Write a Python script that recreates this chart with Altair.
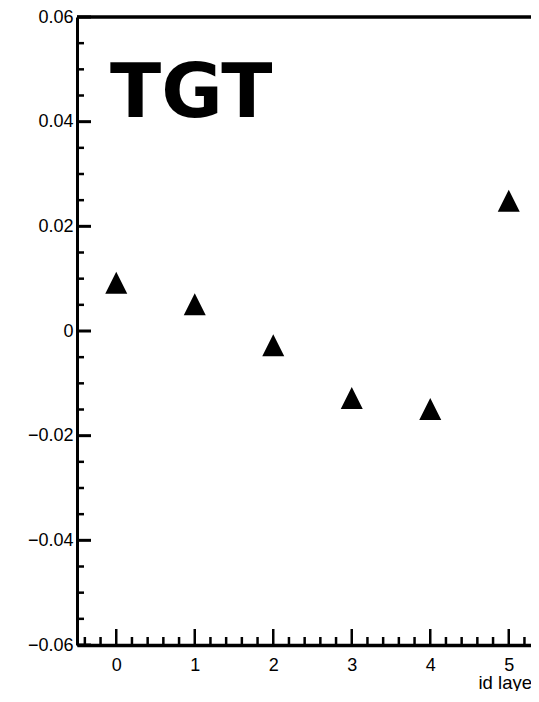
import altair as alt
import pandas as pd

# ---- data ----
layer_id = [0, 1, 2, 3, 4, 5]
offset_val = [0.0092, 0.0051, -0.0027, -0.0128, -0.0149, 0.0249]

x_major = [0, 1, 2, 3, 4, 5]
x_minor = [round(i * 0.2, 1) for i in range(-2, 27) if i % 5 != 0]
y_major = [-0.06, -0.04, -0.02, 0, 0.02, 0.04, 0.06]
y_minor = [round(i * 0.005, 3) for i in range(-11, 12) if i % 4 != 0]

label_text = "TGT"
x_title = "id layer"

# ---- layout ----
W = 454
H = 628
PX_PER_UNIT = 78.5
FONT = "Liberation Sans"

xscale = alt.Scale(domain=[-0.5, -0.5 + W / PX_PER_UNIT], nice=False, zero=False)
yscale = alt.Scale(domain=[-0.06, 0.06], nice=False, zero=False)

xaxis = alt.Axis(
    values=x_major, format="d", ticks=False, tickSize=0, grid=False,
    domainWidth=3.5, domainColor="black",
    labelFont=FONT, labelFontSize=18, labelColor="black", labelPadding=11,
    labelFlush=False, labelOverlap=False,
    title=x_title, titleFont=FONT, titleFontSize=18.5, titleFontWeight="normal",
    titleColor="black", titleX=401, titleY=43, titleAlign="left",
    titleBaseline="alphabetic",
)
yaxis = alt.Axis(
    values=y_major, ticks=False, tickSize=0, grid=False,
    domainWidth=3, domainColor="black",
    labelFont=FONT, labelFontSize=18, labelColor="black", labelPadding=4,
    labelFlush=False, labelOverlap=False,
    labelExpr="datum.value == 0 ? '0' : format(datum.value, '.2f')",
    title="",
)


def xenc(field):
    return alt.X(field, type="quantitative", scale=xscale, axis=xaxis)


def yenc(field):
    return alt.Y(field, type="quantitative", scale=yscale, axis=yaxis)


pts_df = pd.DataFrame({"id": layer_id, "v": offset_val})

points = alt.Chart(pts_df).mark_point(
    shape="M0,-1L-1,1L1,1Z", filled=True, size=484, color="black",
    opacity=1, strokeWidth=0,
).encode(x=xenc("id"), y=yenc("v"))

ymaj = alt.Chart(pd.DataFrame({"v": y_major})).mark_rule(
    color="black", strokeWidth=3
).encode(y=yenc("v"), x=alt.value(0), x2=alt.value(14))

ymin = alt.Chart(pd.DataFrame({"v": y_minor})).mark_rule(
    color="black", strokeWidth=2.5
).encode(y=yenc("v"), x=alt.value(0), x2=alt.value(7))

xmaj = alt.Chart(pd.DataFrame({"id": x_major})).mark_rule(
    color="black", strokeWidth=2.5
).encode(x=xenc("id"), y=alt.value(H), y2=alt.value(H - 16))

xmin = alt.Chart(pd.DataFrame({"id": x_minor})).mark_rule(
    color="black", strokeWidth=2.5
).encode(x=xenc("id"), y=alt.value(H), y2=alt.value(H - 8))

top_line = alt.Chart(pd.DataFrame({"v": [0.06]})).mark_rule(
    color="black", strokeWidth=3.5
).encode(y=yenc("v"))

label = alt.Chart(pd.DataFrame({"t": [label_text], "id": [-0.08], "v": [0.0408]})).mark_text(
    font="DejaVu Sans", fontWeight="bold", fontSize=75, color="black",
    align="left", baseline="alphabetic",
).encode(x=xenc("id"), y=yenc("v"), text="t:N")

chart = alt.layer(ymaj, ymin, xmaj, xmin, top_line, points, label).properties(
    width=W, height=H,
    autosize=alt.AutoSizeParams(type="none"),
    padding={"left": 69, "top": 9, "right": 0, "bottom": 46},
    background="white",
).configure_view(strokeWidth=0)

chart.save("out.html", embed_options={"renderer": "svg", "actions": False})
